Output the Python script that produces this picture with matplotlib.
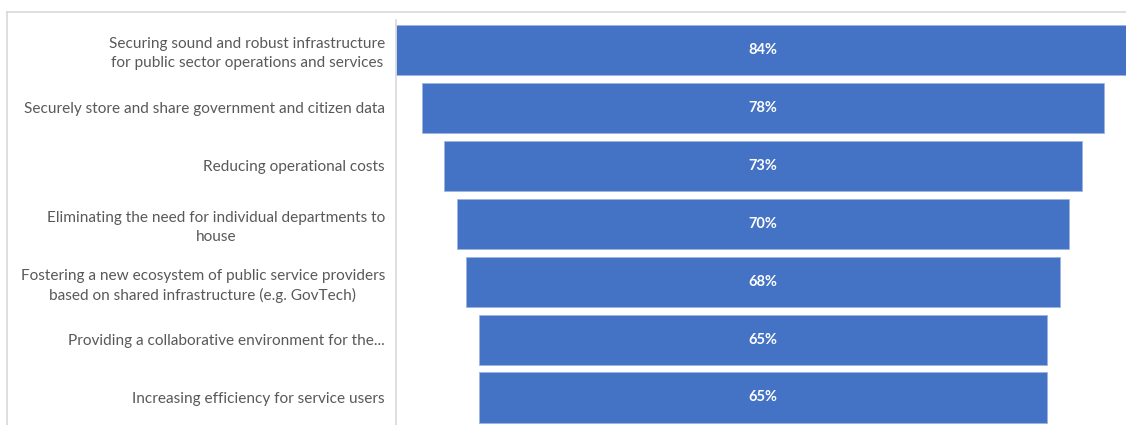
import matplotlib
matplotlib.use("Agg")
import matplotlib.pyplot as plt
from matplotlib.lines import Line2D

categories = [
    "Securing sound and robust infrastructure\nfor public sector operations and services",
    "Securely store and share government and citizen data",
    "Reducing operational costs",
    "Eliminating the need for individual departments to\nhouse",
    "Fostering a new ecosystem of public service providers\nbased on shared infrastructure (e.g. GovTech)",
    "Providing a collaborative environment for the...",
    "Increasing efficiency for service users",
]
values = [84, 78, 73, 70, 68, 65, 65]

BAR_COLOR = "#4472C4"
TEXT_COLOR = "#595959"
LINE_COLOR = "#d9d9d9"

W, H = 1126, 425
fig = plt.figure(figsize=(W / 100, H / 100), dpi=100)
fig.patch.set_facecolor("white")

# outer frame (top and left edges)
fig.add_artist(Line2D([7 / W, 7 / W], [0, 1 - 12 / H], transform=fig.transFigure,
                      color=LINE_COLOR, lw=1.2))
fig.add_artist(Line2D([7 / W, 1], [1 - 12 / H, 1 - 12 / H], transform=fig.transFigure,
                      color=LINE_COLOR, lw=1.2))

ax_left, ax_right = 396, 1130
ax_top, ax_bottom = 20, 425
ax = fig.add_axes([ax_left / W, 1 - ax_bottom / H, (ax_right - ax_left) / W,
                   (ax_bottom - ax_top) / H])

half = max(values) / 2
ypos = list(range(len(values)))
lefts = [-v / 2 for v in values]
bars = ax.barh(ypos, values, left=lefts, height=0.865, color=BAR_COLOR,
               edgecolor="#9db4e0", linewidth=0.6)

for y, v in zip(ypos, values):
    ax.text(0, y, f"{v}%", ha="center", va="center", color="white",
            fontsize=10.5, fontweight="bold", family=["Lato", "DejaVu Sans"])

ax.set_xlim(-half, half)
ax.set_ylim(6.475, -0.518)
ax.set_yticks(ypos)
ax.set_yticklabels(categories, fontsize=11.1, color=TEXT_COLOR,
                   family=["Lato", "DejaVu Sans"], multialignment="center",
                   linespacing=1.45)
ax.tick_params(axis="y", length=0, pad=8)
ax.set_xticks([])
for side in ("top", "right", "bottom"):
    ax.spines[side].set_visible(False)
ax.spines["left"].set_color(LINE_COLOR)
ax.spines["left"].set_linewidth(1.2)

fig.savefig("out.png", dpi=100, facecolor="white")
